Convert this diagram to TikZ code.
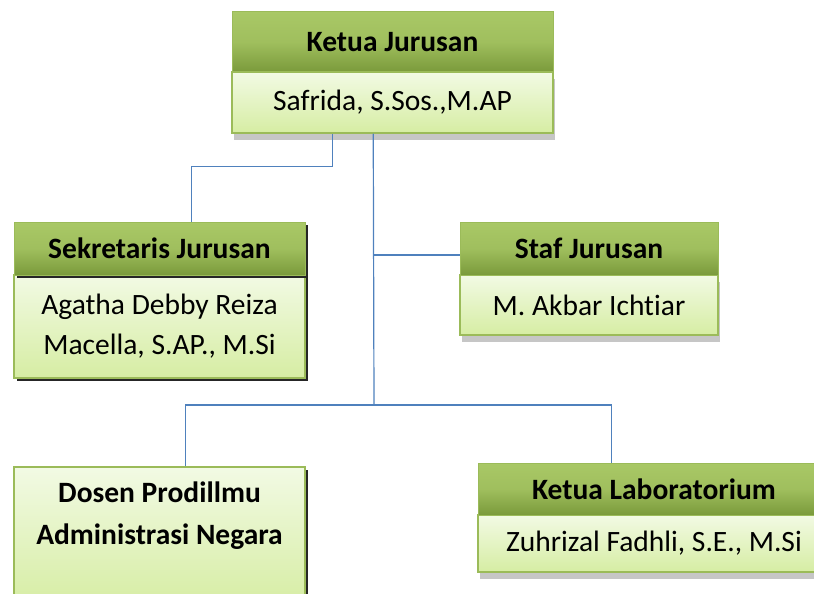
\documentclass[tikz,border=0pt]{standalone}
\usepackage{fontspec}
\setmainfont{Carlito}[RawFeature={-liga;-clig;-calt;-dlig}]
\usetikzlibrary{shadows}

\definecolor{frameGreen}{HTML}{9BBB59}
\definecolor{headTop}{HTML}{A9C866}
\definecolor{headBot}{HTML}{7A9A3B}
\definecolor{bodyTop}{HTML}{F2FAE4}
\definecolor{bodyBot}{HTML}{D6EDA3}
\definecolor{linkBlue}{HTML}{4F81BD}

\begin{document}
\begin{tikzpicture}[
    x=1pt, y=-1pt,
    % ~~~ the green title bar ~~~~~~~
    headbox/.style={
        rectangle, draw=frameGreen, line width=1pt,
        top color=headTop, bottom color=headBot, middle color=headTop!80!headBot,
        font=\fontsize{29.5}{34}\selectfont\bfseries,
        inner sep=0pt, minimum width=#1
    }, % end headbox
    % ~~~ the pale part with the name ~~~~~~~
    namebox/.style={
        rectangle, draw=frameGreen, line width=1.5pt,
        top color=bodyTop, bottom color=bodyBot,
        font=\fontsize{29.5}{40}\selectfont, align=center,
        inner sep=0pt, minimum width=#1
    }, % end namebox
    grayshadow/.style={drop shadow={shadow xshift=2pt, shadow yshift=-7pt, fill=gray!45, opacity=1}},
    darkshadow/.style={drop shadow={shadow xshift=3pt, shadow yshift=-3pt, fill=black!85, opacity=1}},
    link/.style={draw=linkBlue, line width=1.2pt},
 ]
    \useasboundingbox (0,0) rectangle (814,594);
    % ~~~ ketua jurusan ~~~~~~~~~~~~~~
    \node[namebox=321, grayshadow, minimum height=61] (kjBody) at (392.5,102.5) {Safrida, S.Sos.,M.AP};
    \node[headbox=321, minimum height=60] (kjHead) at (392.5,42) {Ketua Jurusan};
    % ~~~ sekretaris jurusan ~~~~~~~~~
    \node[namebox=291, darkshadow, minimum height=103]
         (sekBody) at (159.5,326.5) {Agatha Debby Reiza\\Macella, S.AP., M.Si};
    \node[headbox=291, darkshadow, minimum height=53] (sekHead) at (159.5,248.5) {Sekretaris Jurusan};
    % ~~~ staf jurusan ~~~~~~~~~~~~~~~
    \node[namebox=258, grayshadow, minimum height=60] (stafBody) at (589,305) {M. Akbar Ichtiar};
    \node[headbox=258, minimum height=53] (stafHead) at (589,248.5) {Staf Jurusan};
    % ~~~ dosen (no title bar) ~~~~~~~
    \node[namebox=291, darkshadow, minimum height=140] (dosen) at (159.5,537) {};
    \node[font=\fontsize{29.5}{42}\selectfont\bfseries, align=center]
         (dosenText) at (159.5,516) {Dosen Prodillmu\\Administrasi Negara};
    % ~~~ ketua laboratorium ~~~~~~~~~
    \node[namebox=352, grayshadow, minimum height=57] (labBody) at (654,543.5) {Zuhrizal Fadhli, S.E., M.Si};
    \node[headbox=352, minimum height=52] (labHead) at (654,489) {Ketua Laboratorium};

    % ~~~ connectors ~~~~~~~~~~~~~~~~~
    \coordinate (hub) at (374,405);
    \coordinate (tap) at (374,255);
    \draw[link] ([xshift=101pt]kjBody.south west) -- ++(0,33)
                -| ([xshift=178pt]sekHead.north west);
    \draw[link] ([xshift=142pt]kjBody.south west) -- (hub);
    \draw[link] (tap) -- (tap -| stafHead.west);
    \draw[link] ([xshift=172pt]dosen.north west) |- (hub)
                -| ([xshift=134pt]labHead.north west);
\end{tikzpicture}
\end{document}
